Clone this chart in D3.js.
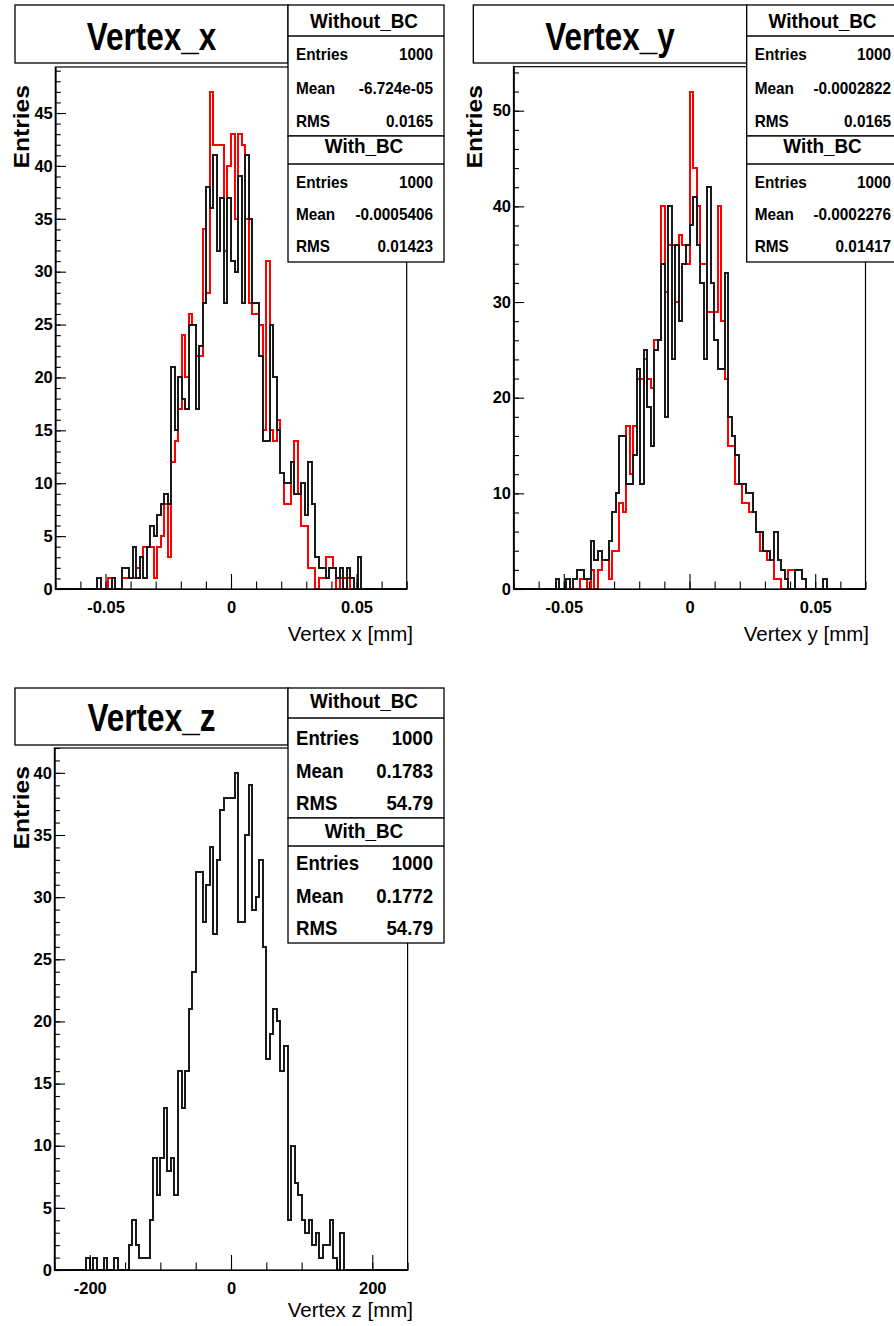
<!DOCTYPE html>
<html>
<head>
<meta charset="utf-8">
<script src="https://cdn.jsdelivr.net/npm/d3@7"></script>
<style>
  body { margin: 0; background: #fff; }
  svg { display: block; }
  text { font-family: "Liberation Sans", Arial, Helvetica, sans-serif; fill: #000; }
</style>
</head>
<body>
<svg id="chart" width="894" height="1326"></svg>
<script>
// ---------------- data: 100 bins per histogram ----------------
// Vertex x [mm], bins over [-0.07, 0.07]
const vxWithoutBC = [
  0,0,0,0,0,0,0,0,0,0,
  0,0,1,0,0,0,1,0,0,2,
  2,1,4,1,3,1,4,6,5,7,
  8,9,8,21,15,20,18,17,25,25,
  17,23,27,38,36,41,32,37,27,37,
  31,30,39,27,41,35,27,27,22,14,
  14,25,20,15,11,10,10,12,9,9,
  10,7,12,8,3,2,2,1,2,2,
  1,2,0,2,1,0,3,0,0,0,
  0,0,0,0,0,0,0,0,0,0
];
const vxWithBC = [
  0,0,0,0,0,0,0,0,0,0,
  0,0,0,0,0,1,1,0,0,1,
  1,1,1,2,3,4,4,4,1,4,
  5,8,3,12,14,17,24,20,26,25,
  22,22,34,28,47,42,42,42,32,40,
  43,35,43,42,35,27,26,26,25,15,
  31,15,14,16,11,8,8,12,14,9,
  6,6,2,2,0,1,1,3,3,2,
  0,1,1,1,0,0,0,0,0,0,
  0,0,0,0,0,0,0,0,0,0
];
// Vertex y [mm], bins over [-0.07, 0.07]
const vyWithoutBC = [
  0,0,0,0,0,0,0,0,0,0,
  0,0,1,0,0,1,0,1,2,2,
  1,1,5,3,4,3,3,5,8,10,
  16,16,11,11,14,23,11,25,19,15,
  25,26,34,18,40,24,36,28,34,36,
  38,41,36,32,24,42,32,26,23,23,
  33,18,16,14,11,11,10,10,8,6,
  6,4,4,3,6,3,2,1,0,0,
  2,2,1,0,0,0,0,0,1,0,
  0,0,0,0,0,0,0,0,0,0
];
const vyWithBC = [
  0,0,0,0,0,0,0,0,0,0,
  0,0,0,0,0,0,0,0,0,1,
  1,0,2,0,2,3,3,1,4,4,
  9,8,17,12,17,22,22,24,22,21,
  26,26,40,31,36,36,30,37,36,34,
  52,44,40,34,34,29,29,29,40,28,
  22,15,15,11,11,9,9,8,8,6,
  4,4,3,3,1,1,0,0,2,2,
  0,0,0,0,0,0,0,0,0,0,
  0,0,0,0,0,0,0,0,0,0
];
// Vertex z [mm], bins over [-250, 250]
const vzWithoutBC = [
  0,0,0,0,0,0,0,0,0,1,
  0,1,0,0,1,0,0,1,0,0,
  0,2,4,2,1,1,1,4,9,6,
  9,13,8,9,6,16,13,16,21,24,
  32,32,28,31,34,27,33,37,38,38,
  38,40,28,28,35,39,29,30,33,26,
  17,19,21,20,16,18,4,10,7,6,
  4,3,4,2,3,1,2,2,4,1,
  0,3,0,0,0,0,0,0,0,0,
  0,0,0,0,0,0,0,0,0,0
];
const vzWithBC = [
  0,0,0,0,0,0,0,0,0,1,
  0,1,0,0,1,0,0,1,0,0,
  0,2,4,2,1,1,1,4,9,6,
  9,13,8,9,6,16,13,16,21,24,
  32,32,28,31,34,27,33,37,38,38,
  38,40,28,28,35,39,29,30,33,26,
  17,19,21,20,16,18,4,10,7,6,
  4,3,4,2,3,1,2,2,4,1,
  0,3,0,0,0,0,0,0,0,0,
  0,0,0,0,0,0,0,0,0,0
];

// axis ranges and ticks
const xyRange = [-0.07, 0.07];
const zRange = [-250, 250];
const xyMajorTicks = [-0.05, 0, 0.05];
const xyMajorLabels = ["-0.05", "0", "0.05"];
const xyMinorStep = 0.01;
const zMajorTicks = [-200, 0, 200];
const zMajorLabels = ["-200", "0", "200"];
const zMinorStep = 50;
const vxYTicks = [0, 5, 10, 15, 20, 25, 30, 35, 40, 45];
const vyYTicks = [0, 10, 20, 30, 40, 50];
const vzYTicks = [0, 5, 10, 15, 20, 25, 30, 35, 40];

// statistics boxes
const statLabels = ["Entries", "Mean", "RMS"];
const vxStatsWithout = ["1000", "-6.724e-05", "0.0165"];
const vxStatsWith = ["1000", "-0.0005406", "0.01423"];
const vyStatsWithout = ["1000", "-0.0002822", "0.0165"];
const vyStatsWith = ["1000", "-0.0002276", "0.01417"];
const vzStatsWithout = ["1000", "0.1783", "54.79"];
const vzStatsWith = ["1000", "0.1772", "54.79"];

const seriesNames = ["With_BC", "Without_BC"];
const seriesColors = ["#ff0000", "#1a1a1a"];   // With_BC drawn first, Without_BC on top

// ---------------- drawing ----------------
const svg = d3.select("#chart");

function label(g, x, y, s, o) {
  return g.append("text")
    .attr("transform", `translate(${x},${y})${o.rotate ? " rotate(" + o.rotate + ")" : ""} scale(${o.sx || 1},1)`)
    .attr("text-anchor", o.anchor || "start")
    .style("font-size", o.size + "px")
    .style("font-weight", o.bold ? "bold" : "normal")
    .text(s);
}

function box(g, x0, y0, x1, y1) {
  g.append("rect")
    .attr("x", x0).attr("y", y0).attr("width", x1 - x0).attr("height", y1 - y0)
    .attr("fill", "#fff").attr("stroke", "#000").attr("stroke-width", 1.3);
}

function statsBox(g, s) {
  box(g, s.x0, s.y0, s.x1, s.y1);
  g.append("line").attr("x1", s.x0).attr("x2", s.x1).attr("y1", s.ySep).attr("y2", s.ySep)
    .attr("stroke", "#000").attr("stroke-width", 1.3);
  label(g, s.headX, s.headY, s.title, { size: 19.5, bold: true, anchor: "middle", sx: 0.97 });
  statLabels.forEach((name, i) => {
    label(g, s.x0 + 8, s.rowY[i], name, { size: s.size, bold: true, sx: 0.93 });
    label(g, s.x1 - 11, s.rowY[i], s.values[i], { size: s.size, bold: true, anchor: "end", sx: 0.93 });
  });
}

function drawPanel(p) {
  const g = svg.append("g");
  const x = d3.scaleLinear().domain(p.range).range([p.l, p.r]);
  const ymax = 1.05 * d3.max(p.series.flat());
  const y = d3.scaleLinear().domain([0, ymax]).range([p.b, p.t]);

  // histogram outlines, snapped to the pixel grid so every step has the same weight
  const line = d3.line()
    .x(d => Math.round(x(d[0])))
    .y(d => Math.round(y(d[1])));
  p.series.forEach((vals, k) => {
    const w = (p.range[1] - p.range[0]) / vals.length;
    const pts = [[p.range[0], 0]];
    vals.forEach((v, i) => {
      pts.push([p.range[0] + i * w, v], [p.range[0] + (i + 1) * w, v]);
    });
    pts.push([p.range[1], 0]);
    g.append("path").attr("d", line(pts))
      .attr("fill", "none").attr("stroke", seriesColors[k])
      .attr("stroke-width", 2).attr("stroke-linejoin", "miter")
      .attr("shape-rendering", "crispEdges");
  });

  // frame
  g.append("rect").attr("x", p.l).attr("y", p.t).attr("width", p.r - p.l).attr("height", p.b - p.t)
    .attr("fill", "none").attr("stroke", "#000").attr("stroke-width", 1.2);

  // x axis: minor + major ticks pointing inward
  const nMinor = Math.round((p.range[1] - p.range[0]) / p.minorStep);
  const xMinor = d3.range(nMinor + 1).map(i => p.range[0] + i * p.minorStep);
  const axStyle = sel => sel.style("font-family", '"Liberation Sans", Arial, sans-serif')
    .style("font-size", "16.5px").style("font-weight", "bold")
    .call(s => s.select(".domain").attr("stroke", "#000").attr("stroke-width", 1.2))
    .call(s => s.selectAll(".tick line").attr("stroke", "#000").attr("stroke-width", 1.1));

  g.append("g").attr("transform", `translate(0,${p.b})`)
    .call(d3.axisBottom(x).tickValues(xMinor).tickSize(-7.5).tickSizeOuter(0).tickFormat(""))
    .call(axStyle);
  g.append("g").attr("transform", `translate(0,${p.b})`)
    .call(d3.axisBottom(x).tickValues(p.xMajor).tickSize(-15).tickSizeOuter(0).tickPadding(12.5)
      .tickFormat((d, i) => p.xLabels[i]))
    .call(axStyle);

  // y axis
  const yMinor = d3.range(0, Math.floor(ymax) + 1, p.yMinorStep);
  g.append("g").attr("transform", `translate(${p.l},0)`)
    .call(d3.axisLeft(y).tickValues(yMinor).tickSize(-5.5).tickSizeOuter(0).tickFormat(""))
    .call(axStyle);
  g.append("g").attr("transform", `translate(${p.l},0)`)
    .call(d3.axisLeft(y).tickValues(p.yTicks).tickSize(-10.7).tickSizeOuter(0).tickPadding(2.5)
      .tickFormat(d => String(d)))
    .call(axStyle);

  // axis titles
  label(g, p.xTitleX, p.xTitleY, p.xTitle, { size: 20.5, anchor: "end" });
  label(g, p.yTitleX, p.yTitleY, "Entries", { size: 22, bold: true, anchor: "end", rotate: -90, sx: 1.12 });

  // title box
  box(g, p.tb[0], p.tb[1], p.tb[2], p.tb[3]);
  label(g, (p.tb[0] + p.tb[2]) / 2, p.titleY, p.title, { size: 38, bold: true, anchor: "middle", sx: 0.83 });

  // statistics
  p.stats.forEach(s => statsBox(g, s));
}

const panels = [
  {
    title: "Vertex_x", xTitle: "Vertex x [mm]",
    range: xyRange, xMajor: xyMajorTicks, xLabels: xyMajorLabels, minorStep: xyMinorStep,
    yTicks: vxYTicks, yMinorStep: 1,
    series: [vxWithBC, vxWithoutBC],
    l: 55.3, r: 406.7, t: 67, b: 589,
    xTitleX: 413, xTitleY: 640.5, yTitleX: 28.5, yTitleY: 85,
    tb: [15, 5, 288, 63], titleY: 49.5,
    stats: [
      { title: "Without_BC", x0: 288, x1: 444, y0: 5, ySep: 36, y1: 136, headX: 364, headY: 27.5,
        rowY: [60, 94.3, 126.5], values: vxStatsWithout, size: 16.5 },
      { title: "With_BC", x0: 288, x1: 444, y0: 136, ySep: 164, y1: 262, headX: 364, headY: 153,
        rowY: [187.7, 219.5, 251.5], values: vxStatsWith, size: 16.5 }
    ]
  },
  {
    title: "Vertex_y", xTitle: "Vertex y [mm]",
    range: xyRange, xMajor: xyMajorTicks, xLabels: xyMajorLabels, minorStep: xyMinorStep,
    yTicks: vyYTicks, yMinorStep: 2,
    series: [vyWithBC, vyWithoutBC],
    l: 513.5, r: 865.5, t: 66.7, b: 589,
    xTitleX: 869, xTitleY: 640.5, yTitleX: 482, yTitleY: 85,
    tb: [473.3, 5, 746.7, 63], titleY: 49.5,
    stats: [
      { title: "Without_BC", x0: 746.7, x1: 902, y0: 5, ySep: 36, y1: 136, headX: 822.5, headY: 27.5,
        rowY: [60, 94.3, 126.5], values: vyStatsWithout, size: 16.5 },
      { title: "With_BC", x0: 746.7, x1: 902, y0: 136, ySep: 164, y1: 262, headX: 822.5, headY: 153,
        rowY: [187.7, 219.5, 251.5], values: vyStatsWith, size: 16.5 }
    ]
  },
  {
    title: "Vertex_z", xTitle: "Vertex z [mm]",
    range: zRange, xMajor: zMajorTicks, xLabels: zMajorLabels, minorStep: zMinorStep,
    yTicks: vzYTicks, yMinorStep: 1,
    series: [vzWithBC, vzWithoutBC],
    l: 54.4, r: 407.6, t: 748, b: 1270,
    xTitleX: 413, xTitleY: 1317, yTitleX: 28.5, yTitleY: 766,
    tb: [15, 688, 288, 745], titleY: 731,
    stats: [
      { title: "Without_BC", x0: 288, x1: 444, y0: 688, ySep: 718, y1: 818, headX: 364, headY: 708,
        rowY: [745, 778, 810], values: vzStatsWithout, size: 20 },
      { title: "With_BC", x0: 288, x1: 444, y0: 818, ySep: 846, y1: 943, headX: 364, headY: 838,
        rowY: [870, 903, 935], values: vzStatsWith, size: 20 }
    ]
  }
];

panels.forEach(drawPanel);
</script>
</body>
</html>
